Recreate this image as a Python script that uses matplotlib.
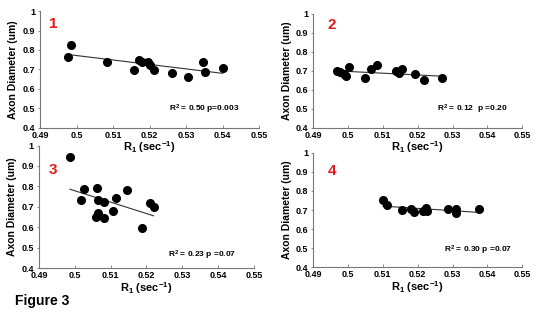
#!/usr/bin/env python3
"""
Figure 3: axon diameter vs R1, four panels
"""
import matplotlib
matplotlib.use('Agg')
import matplotlib.pyplot as plt

# panel 1
x1 = [0.4976, 0.4985, 0.5084, 0.5156, 0.5170, 0.5180, 0.5195, 0.5201,
      0.5213, 0.5261, 0.5304, 0.5345, 0.5352, 0.5400]
y1 = [0.765, 0.828, 0.736, 0.699, 0.748, 0.736, 0.740, 0.723,
      0.699, 0.680, 0.660, 0.740, 0.685, 0.707]
fit1_x = [0.4976, 0.5400]
fit1_y = [0.777, 0.680]

# panel 2
x2 = [0.4969, 0.4978, 0.4988, 0.4995, 0.5004, 0.5048, 0.5067, 0.5084,
      0.5138, 0.5146, 0.5155, 0.5191, 0.5217, 0.5269]
y2 = [0.699, 0.694, 0.683, 0.673, 0.722, 0.660, 0.708, 0.729,
      0.699, 0.690, 0.709, 0.683, 0.651, 0.664]
fit2_x = [0.4969, 0.5269]
fit2_y = [0.700, 0.672]

# panel 3
x3 = [0.4987, 0.5017, 0.5026, 0.5063, 0.5065, 0.5065, 0.5060, 0.5081,
      0.5082, 0.5107, 0.5114, 0.5146, 0.5188, 0.5209, 0.5220]
y3 = [0.942, 0.731, 0.786, 0.791, 0.731, 0.672, 0.648, 0.722,
      0.646, 0.678, 0.742, 0.784, 0.597, 0.721, 0.700]
fit3_x = [0.4987, 0.5220]
fit3_y = [0.786, 0.656]

# panel 4
x4 = [0.5100, 0.5111, 0.5155, 0.5182, 0.5189, 0.5216, 0.5223, 0.5227,
      0.5288, 0.5311, 0.5311, 0.5375]
y4 = [0.752, 0.726, 0.700, 0.704, 0.688, 0.695, 0.709, 0.697,
      0.707, 0.705, 0.686, 0.707]
fit4_x = [0.5100, 0.5375]
fit4_y = [0.721, 0.688]

panel_labels = ['1', '2', '3', '4']
stats = ['R$^2$ = 0.50 p=0.003', 'R$^2$ = 0.12  p =0.20',
         'R$^2$ = 0.23 p =0.07', 'R$^2$ = 0.30 p =0.07']
xticks = [0.49, 0.5, 0.51, 0.52, 0.53, 0.54, 0.55]
yticks = [0.4, 0.5, 0.6, 0.7, 0.8, 0.9, 1.0]

plt.rcParams['font.family'] = ['Liberation Sans', 'DejaVu Sans']
plt.rcParams['font.weight'] = 'bold'
plt.rcParams['mathtext.fontset'] = 'custom'
plt.rcParams['mathtext.rm'] = 'Liberation Sans:bold'
plt.rcParams['mathtext.default'] = 'rm'

fig = plt.figure(figsize=(5.4, 3.15), dpi=100)

rects = [
    [0.074, 0.594, 0.406, 0.371],
    [0.580, 0.594, 0.387, 0.362],
    [0.072, 0.149, 0.398, 0.389],
    [0.580, 0.151, 0.387, 0.364],
]
data = [(x1, y1, fit1_x, fit1_y), (x2, y2, fit2_x, fit2_y),
        (x3, y3, fit3_x, fit3_y), (x4, y4, fit4_x, fit4_y)]
label_pos = [(0.06, 0.89), (0.09, 0.90), (0.065, 0.80), (0.09, 0.84)]
stat_pos = [(0.75, 0.16), (0.76, 0.16), (0.76, 0.10), (0.79, 0.15)]

for rect, (xs, ys, fx, fy), lab, lp, st, sp in zip(
        rects, data, panel_labels, label_pos, stats, stat_pos):
    ax = fig.add_axes(rect)
    ax.patch.set_alpha(0)
    ax.plot(fx, fy, '-', color='#333333', lw=0.8, zorder=2)
    ax.plot(xs, ys, 'o', color='black', markersize=5.5, zorder=3,
            clip_on=False)
    ax.set_xlim(0.49, 0.55)
    ax.set_ylim(0.4, 1.0)
    ax.set_xticks(xticks)
    ax.set_yticks(yticks)
    ax.set_xticklabels(['0.49', '0.5', '0.51', '0.52', '0.53', '0.54', '0.55'])
    ax.set_yticklabels(['0.4', '0.5', '0.6', '0.7', '0.8', '0.9', '1'])
    for s in ['top', 'right']:
        ax.spines[s].set_visible(False)
    for s in ['left', 'bottom']:
        ax.spines[s].set_color('#777777')
        ax.spines[s].set_linewidth(0.8)
    ax.tick_params(axis='x', direction='in', length=2, width=0.6,
                   color='#777777', labelsize=6.5, pad=2)
    ax.tick_params(axis='y', direction='out', length=1.5, width=0.6,
                   color='#777777', labelsize=6.5, pad=2)
    ax.set_xlabel('R$_1$ (sec$^{-1}$)', fontsize=8, fontweight='bold',
                  labelpad=0)
    ax.set_ylabel('Axon Diameter (um)', fontsize=7.5, fontweight='bold',
                  labelpad=3)
    ax.text(lp[0], lp[1], lab, transform=ax.transAxes, color='#e31a1c',
            fontsize=11, fontweight='bold', ha='center', va='center')
    ax.text(sp[0], sp[1], st, transform=ax.transAxes, fontsize=6,
            fontweight='bold', ha='center', va='center')

fig.text(0.028, 0.045, 'Figure 3', fontsize=10, fontweight='bold',
         ha='left', va='center')

fig.savefig('out.png', dpi=100)
